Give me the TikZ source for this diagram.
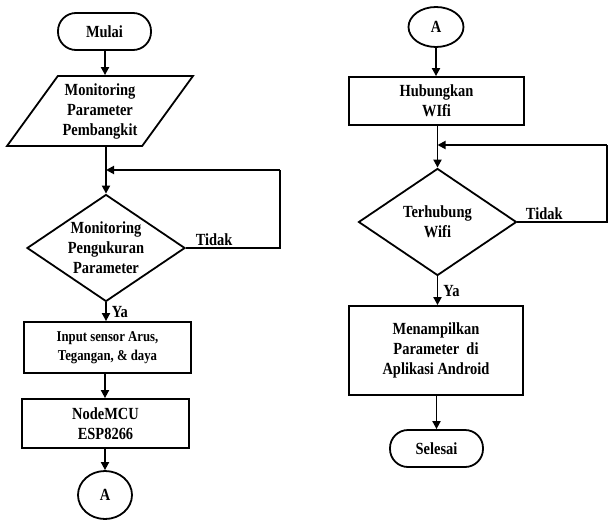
\documentclass[tikz,border=0pt]{standalone}
\usepackage{fontspec}
\setmainfont{Liberation Serif}[FakeStretch=0.85]
\usetikzlibrary{shapes.geometric,arrows.meta}
\tikzset{
  line/.style={line width=1.8pt},
  arr/.style={line width=1.8pt,-{Triangle[length=8pt,width=8pt]}},
  txt/.style={font=\fontsize{17}{20}\selectfont\bfseries,align=center,inner sep=0pt},
  term/.style={txt,draw,line width=1.8pt,rectangle,rounded corners=18pt,minimum width=93pt,minimum height=37pt},
  proc/.style={txt,draw,line width=1.8pt,rectangle},
  dec/.style={txt,draw,line width=1.8pt,diamond,aspect=1.48,minimum width=158pt,minimum height=107pt},
  conn/.style={txt,draw,line width=1.8pt,ellipse},
  io/.style={txt,draw,line width=1.8pt,trapezium,trapezium left angle=51,trapezium right angle=129,trapezium stretches=true,minimum width=186pt,minimum height=70pt},
  lbl/.style={font=\fontsize{17}{20}\selectfont\bfseries,inner sep=1pt}
}
\begin{document}
\begin{tikzpicture}[x=1pt,y=-1pt]
\useasboundingbox (0,0) rectangle (609,521);
% left column
\node[term] (mulai) at (104.5,31.5) {Mulai};
\node[io] (param) at (100,111) {Monitoring\\Parameter\\Pembangkit};
\node[dec] (dec1) at (106,248) {Monitoring\\Pengukuran\\Parameter};
\node[proc,minimum width=167pt,minimum height=51pt,font=\fontsize{15}{19}\selectfont\bfseries] (input) at (107.5,347.5) {Input sensor Arus,\\Tegangan, \& daya};
\node[proc,minimum width=167pt,minimum height=49pt] (node) at (105.5,423.5) {NodeMCU\\ESP8266};
\node[conn,minimum width=54pt,minimum height=48pt] (a1) at (105,495) {A};
\coordinate (l1) at (280,248);
\coordinate (l2) at (280,170);
\coordinate (l3) at (106,170);

\draw[arr] (mulai.south -| 105,0) -- (param.north -| 105,0);
\draw[line] (param.south -| dec1.north) -- (l3);
\draw[arr] (l3) -- (dec1.north);
\draw[line] (dec1.east) -- node[lbl,above,pos=0.3] (t1) {Tidak} (l1) -- (l2);
\draw[arr] (l2) -- (l3);
\draw[arr] (dec1.south) -- node[lbl,right=4pt] (y1) {Ya} (dec1.south |- input.north);
\draw[arr] (input.south -| 105,0) -- (node.north -| 105,0);
\draw[arr] (node.south -| a1.north) -- (a1.north);

% right column
\node[conn,minimum width=55pt,minimum height=40pt] (a2) at (436,27) {A};
\node[proc,minimum width=175pt,minimum height=48pt] (hub) at (436.5,101) {Hubungkan\\WIfi};
\node[dec] (dec2) at (437.5,222) {Terhubung\\Wifi};
\node[proc,minimum width=174pt,minimum height=89pt] (men) at (436,350.5) {Menampilkan\\Parameter~ di\\Aplikasi Android};
\node[term] (sel) at (436.5,448.5) {Selesai};
\coordinate (r1) at (607,222);
\coordinate (r2) at (607,145);
\coordinate (r3) at (437.5,145);

\draw[arr] (a2.south) -- (hub.north -| a2.south);
\draw[line] (hub.south -| dec2.north) -- (r3);
\draw[arr] (r3) -- (dec2.north);
\draw[line] (dec2.east) -- node[lbl,above,pos=0.3] (t2) {Tidak} (r1) -- (r2);
\draw[arr] (r2) -- (r3);
\draw[arr] (dec2.south) -- node[lbl,right=4pt] (y2) {Ya} (dec2.south |- men.north);
\draw[arr] (men.south -| sel.north) -- (sel.north);
\end{tikzpicture}
\end{document}
